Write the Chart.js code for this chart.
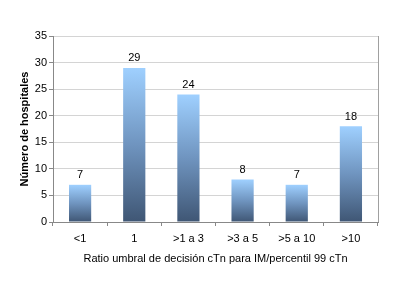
<!DOCTYPE html>
<html lang="es">
<head>
<meta charset="UTF-8">
<title>Número de hospitales por ratio umbral</title>
<script src="https://cdn.jsdelivr.net/npm/chart.js"></script>
<style>
    body { margin: 0; background: #fff; }
    .wrap { width: 404px; height: 304px; }
</style>
</head>
<body>
<div class="wrap"><canvas id="grafico" width="404" height="304"></canvas></div>
<script>
const categorias = ['<1', '1', '>1 a 3', '>3 a 5', '>5 a 10', '>10'];
const hospitales = [7, 29, 24, 8, 7, 18];
const ticksY = [0, 5, 10, 15, 20, 25, 30, 35];

const fuente = "'Liberation Sans', Arial, sans-serif";

// degradado por barra: claro arriba, oscuro abajo
function degradado(ctx) {
    const chart = ctx.chart;
    if (!chart.chartArea || ctx.dataIndex === undefined) return '#7fa6d0';
    const y = chart.scales.y;
    const top = y.getPixelForValue(ctx.raw);
    const bottom = y.getPixelForValue(0);
    const g = chart.ctx.createLinearGradient(0, top, 0, bottom);
    g.addColorStop(0, '#9fd0ff');
    g.addColorStop(0.5, '#6f94bf');
    g.addColorStop(1, '#3f5674');
    return g;
}

const etiquetas = {
    id: 'etiquetas',
    afterDatasetsDraw(chart) {
        const c = chart.ctx;
        const meta = chart.getDatasetMeta(0);
        c.save();
        c.fillStyle = '#000';
        c.font = '11px ' + fuente;
        c.textAlign = 'center';
        c.textBaseline = 'bottom';
        meta.data.forEach((bar, i) => {
            c.fillText(String(hospitales[i]), bar.x, bar.y - 4);
        });
        c.restore();
    }
};

const bordeDerecho = {
    id: 'bordeDerecho',
    afterDraw(chart) {
        const a = chart.chartArea;
        const c = chart.ctx;
        c.save();
        c.strokeStyle = '#a0a0a0';
        c.lineWidth = 1;
        c.beginPath();
        c.moveTo(a.right + 0.5, a.top);
        c.lineTo(a.right + 0.5, a.bottom);
        c.stroke();
        c.restore();
    }
};

new Chart(document.getElementById('grafico'), {
    type: 'bar',
    data: {
        labels: categorias,
        datasets: [{
            data: hospitales,
            backgroundColor: degradado,
            borderWidth: 0,
            categoryPercentage: 1,
            barPercentage: 0.41
        }]
    },
    options: {
        responsive: false,
        animation: false,
        devicePixelRatio: 1,
        layout: { padding: { left: 18, right: 26, top: 36, bottom: 38 } },
        plugins: { legend: { display: false }, tooltip: { enabled: false } },
        scales: {
            x: {
                afterFit(s) { s.height = 44; },
                grid: { offset: true, drawOnChartArea: false, tickLength: 4, tickColor: '#888' },
                border: { color: '#888' },
                ticks: { color: '#000', font: { family: fuente, size: 11 }, padding: 6, autoSkip: false, maxRotation: 0 },
                title: {
                    display: true,
                    text: 'Ratio umbral de decisión cTn para IM/percentil 99 cTn',
                    color: '#000',
                    font: { family: fuente, size: 11 },
                    padding: 0
                }
            },
            y: {
                min: 0,
                max: 35,
                afterFit(s) { s.width = 35; },
                afterBuildTicks(s) { s.ticks = ticksY.map(v => ({ value: v })); },
                grid: { color: '#d4d4d4', tickLength: 4, tickColor: '#888' },
                border: { color: '#888' },
                ticks: { color: '#000', font: { family: fuente, size: 11 }, padding: 2 },
                title: {
                    display: true,
                    text: 'Número de hospitales',
                    color: '#000',
                    font: { family: fuente, size: 11, weight: 'bold' },
                    padding: 0
                }
            }
        }
    },
    plugins: [etiquetas, bordeDerecho]
});
</script>
</body>
</html>
